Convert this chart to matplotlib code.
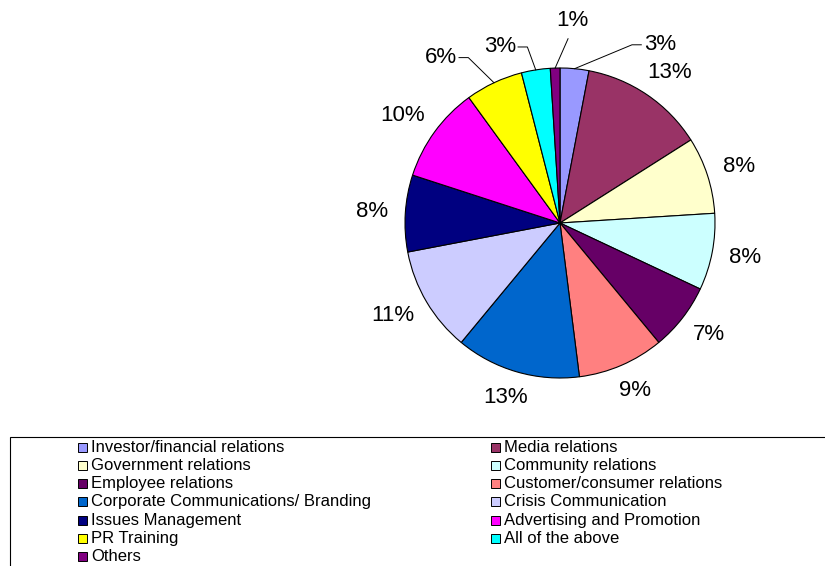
"""Pie chart of PR activity shares with a two-column legend underneath"""

import matplotlib
matplotlib.use('Agg')
from matplotlib import pyplot as plt
from matplotlib.patches import Rectangle
import numpy as np

categories = ['Investor/financial relations', 'Media relations',
              'Government relations', 'Community relations',
              'Employee relations', 'Customer/consumer relations',
              'Corporate Communications/ Branding', 'Crisis Communication',
              'Issues Management', 'Advertising and Promotion',
              'PR Training', 'All of the above', 'Others']
shares = [3, 13, 8, 8, 7, 9, 13, 11, 8, 10, 6, 3, 1]
colors = ['#9999FF', '#993366', '#FFFFCC', '#CCFFFF', '#660066', '#FF8080',
          '#0066CC', '#CCCCFF', '#000080', '#FF00FF', '#FFFF00', '#00FFFF',
          '#800080']

plt.rcParams['font.family'] = ['Liberation Sans', 'DejaVu Sans']

W, H = 825, 566
fig = plt.figure(figsize=(W / 100, H / 100), dpi=100)

# pie centre and radius in pixels, axes spans +-1.5 radii
cx, cy, R = 560, 223, 155
span = 1.5 * R
ax = fig.add_axes([(cx - span) / W, (H - cy - span) / H, 2 * span / W, 2 * span / H])

wedges, _ = ax.pie(shares, colors=colors, startangle=90, counterclock=False,
                   radius=1, wedgeprops=dict(edgecolor='black', linewidth=0.8))
ax.set_xlim(-1.5, 1.5)
ax.set_ylim(-1.5, 1.5)
ax.axis('off')

fs = 16
# slices whose labels are pulled out with a leader line:
# index -> (elbow angle clockwise from top, elbow radius)
leaders = {0: (22, 1.24), 10: (331, 1.22), 11: (349.5, 1.155), 12: (2.5, 1.19)}

for i, (w, val) in enumerate(zip(wedges, shares)):
    label = '%d%%' % val
    phi = np.deg2rad((w.theta1 + w.theta2) / 2)
    if i in leaders:
        ang, r = leaders[i]
        a = np.deg2rad(90 - ang)
        sx, sy = np.cos(phi), np.sin(phi)
        ex, ey = r * np.cos(a), r * np.sin(a)
        if i == 12:
            ax.plot([sx, ex], [sy, ey], color='black', lw=0.7, clip_on=False)
            ax.text(ex + 0.026, ey + 0.05, label, fontsize=fs, ha='center',
                    va='bottom', clip_on=False)
            continue
        d = 1 if ex > 0 else -1
        ax.plot([sx, ex, ex + d * 0.06], [sy, ey, ey], color='black', lw=0.7,
                clip_on=False)
        ax.text(ex + d * 0.075, ey, label, fontsize=fs,
                ha='left' if d > 0 else 'right', va='center', clip_on=False)
    else:
        tw = fs * (0.556 * len(str(val)) + 0.889)
        th = fs * 0.9
        ax.annotate(label, xy=(1.11 * np.cos(phi), 1.11 * np.sin(phi)),
                    xytext=(tw / 2 * np.cos(phi), th / 2 * np.sin(phi)),
                    textcoords='offset points', fontsize=fs,
                    ha='center', va='center', annotation_clip=False)

# legend frame runs off the right and bottom edges
fig.patches.append(Rectangle((10 / W, -0.05), 1.1, (H - 437) / H + 0.05,
                             transform=fig.transFigure, fill=False,
                             edgecolor='black', linewidth=0.8))

sq = 9
for i, (name, c) in enumerate(zip(categories, colors)):
    col, row = i % 2, i // 2
    x0 = [78, 491][col]
    yc = 447 + 18.3 * row
    fig.patches.append(Rectangle((x0 / W, (H - yc - sq / 2) / H), sq / W, sq / H,
                                 transform=fig.transFigure, facecolor=c,
                                 edgecolor='black', linewidth=0.7))
    fig.text((x0 + 13) / W, (H - yc) / H, name, fontsize=12,
             ha='left', va='center')

fig.savefig('out.png', dpi=100)
